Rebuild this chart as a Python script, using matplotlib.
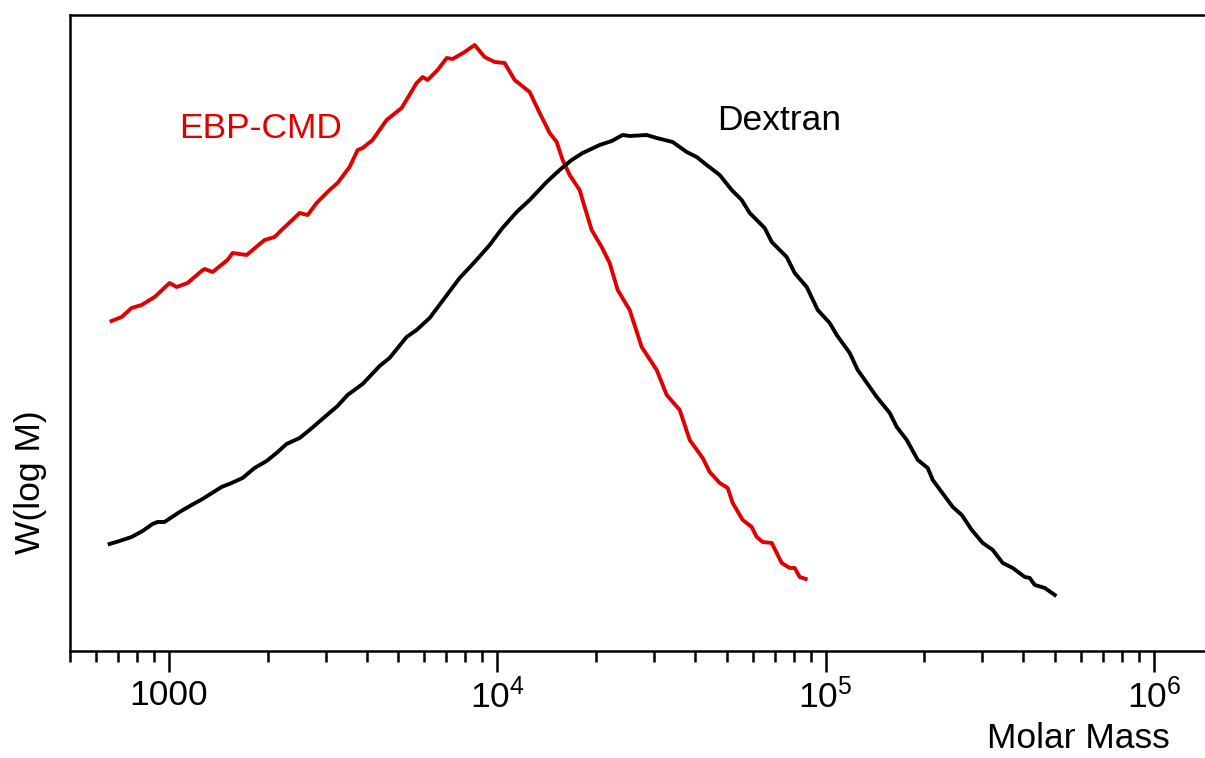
# GPC molar mass distributions: EBP-CMD vs Dextran

import numpy as np
import matplotlib
matplotlib.use('Agg')
import matplotlib.pyplot as plt
from matplotlib.ticker import FixedLocator, FixedFormatter, LogLocator, NullFormatter

plt.rcParams['font.family'] = ['Liberation Sans', 'DejaVu Sans']
plt.rcParams['mathtext.fontset'] = 'custom'
plt.rcParams['mathtext.rm'] = 'Liberation Sans'
plt.rcParams['mathtext.it'] = 'Liberation Sans:italic'
plt.rcParams['mathtext.bf'] = 'Liberation Sans:bold'

# EBP-CMD (red)
ebp_M = [669, 718, 770, 826, 905, 1005, 1056, 1140, 1258, 1285, 1359, 1509, 1564,
         1725, 1956, 2099, 2205, 2502, 2646, 2818, 3086, 3264, 3551, 3757, 3891,
         4173, 4603, 5115, 5683, 5928, 6138, 6584, 7015, 7316, 7955, 8534, 9155,
         9819, 10532, 11298, 12553, 13465, 14443, 15170, 15822, 16618, 17824,
         18460, 19390, 20797, 21999, 23268, 25311, 27535, 30590, 32812, 35954,
         38558, 42232, 44359, 47585, 50330, 52124, 55901, 59541, 61666, 64316,
         68537, 73497, 77738, 80510, 83384, 86973]
ebp_W = [3.30, 3.34, 3.43, 3.46, 3.54, 3.68, 3.64, 3.68, 3.80, 3.82, 3.79, 3.91, 3.98,
         3.96, 4.11, 4.14, 4.21, 4.38, 4.36, 4.48, 4.61, 4.68, 4.84, 5.01, 5.03,
         5.11, 5.31, 5.43, 5.68, 5.74, 5.71, 5.81, 5.93, 5.92, 5.99, 6.06, 5.94,
         5.89, 5.88, 5.71, 5.59, 5.38, 5.18, 5.09, 4.91, 4.76, 4.61,
         4.44, 4.21, 4.04, 3.88, 3.61, 3.41, 3.04, 2.81, 2.56, 2.41,
         2.11, 1.93, 1.79, 1.68, 1.63, 1.48, 1.31, 1.24, 1.14, 1.09,
         1.08, 0.88, 0.83, 0.83, 0.74, 0.72]

# Dextran (black)
dex_M = [660, 708, 770, 832, 892, 924, 970, 1078, 1173, 1266, 1447, 1553, 1677,
         1824, 1985, 2128, 2283, 2502, 2683, 2981, 3264, 3501, 3891, 4384, 4700,
         5297, 5683, 6225, 6917, 7682, 8534, 9484, 10313, 11458, 12553, 14142,
         15491, 16852, 18204, 20508, 22310, 24092, 25311, 28514, 30590, 34218,
         37758, 40499, 43437, 47585, 51759, 55510, 58731, 65224, 68537, 76120,
         80510, 87585, 94620, 102918, 108105, 118409, 125246, 143130, 156793,
         164690, 176650, 190850, 204640, 211940, 243870, 259760, 278640, 301000,
         322820, 346260, 371410, 404120, 418540, 433470, 464960, 498750]
dex_W = [1.07, 1.10, 1.14, 1.20, 1.27, 1.29, 1.29, 1.39, 1.46, 1.52, 1.64, 1.68, 1.73,
         1.83, 1.90, 1.98, 2.07, 2.13, 2.21, 2.34, 2.45, 2.56, 2.67, 2.85, 2.93,
         3.14, 3.21, 3.33, 3.53, 3.73, 3.89, 4.06, 4.22, 4.39, 4.51, 4.69,
         4.81, 4.91, 4.98, 5.06, 5.10, 5.16, 5.15, 5.16, 5.13, 5.09,
         4.99, 4.94, 4.86, 4.76, 4.61, 4.51, 4.38, 4.23, 4.09, 3.94,
         3.78, 3.64, 3.41, 3.28, 3.16, 2.98, 2.81, 2.54, 2.38,
         2.24, 2.11, 1.91, 1.83, 1.71, 1.44, 1.36, 1.21, 1.08,
         1.01, 0.88, 0.83, 0.74, 0.73, 0.66, 0.63, 0.56]

major_ticks = [1e3, 1e4, 1e5, 1e6]
major_labels = ['1000', r'$\mathregular{10^4}$', r'$\mathregular{10^5}$', r'$\mathregular{10^6}$']

fs = 25.5

fig = plt.figure(figsize=(12.05, 7.58), dpi=100)
ax = fig.add_axes([0.0581, 0.1412, 0.9419, 0.8390])

ax.plot(ebp_M, ebp_W, color='#e00000', lw=2.8, solid_joinstyle='round')
ax.plot(dex_M, dex_W, color='black', lw=2.8, solid_joinstyle='round')

ax.set_xscale('log')
ax.set_xlim(500, 1.43e6)
ax.set_ylim(0, 6.36)

ax.xaxis.set_major_locator(FixedLocator(major_ticks))
ax.xaxis.set_major_formatter(FixedFormatter(major_labels))
ax.xaxis.set_minor_locator(LogLocator(base=10, subs=np.arange(2, 10)))
ax.xaxis.set_minor_formatter(NullFormatter())
ax.tick_params(axis='x', which='major', length=15, width=1.8, labelsize=fs, pad=5)
ax.tick_params(axis='x', which='minor', length=8, width=1.8)
ax.set_yticks([])

for side in ['left', 'bottom', 'top']:
    ax.spines[side].set_linewidth(1.8)
ax.spines['right'].set_visible(False)

ax.set_xlabel('Molar Mass', fontsize=fs)
ax.xaxis.set_label_coords(0.888, -0.112)
ax.set_ylabel('W(log M)', fontsize=fs)
ax.yaxis.set_label_coords(-0.02, 0.266)

ax.text(1078, 5.23, 'EBP-CMD', color='#e00000', fontsize=fs, va='center', ha='left')
ax.text(46580, 5.31, 'Dextran', color='black', fontsize=fs, va='center', ha='left')

fig.savefig('out.png', dpi=100)
